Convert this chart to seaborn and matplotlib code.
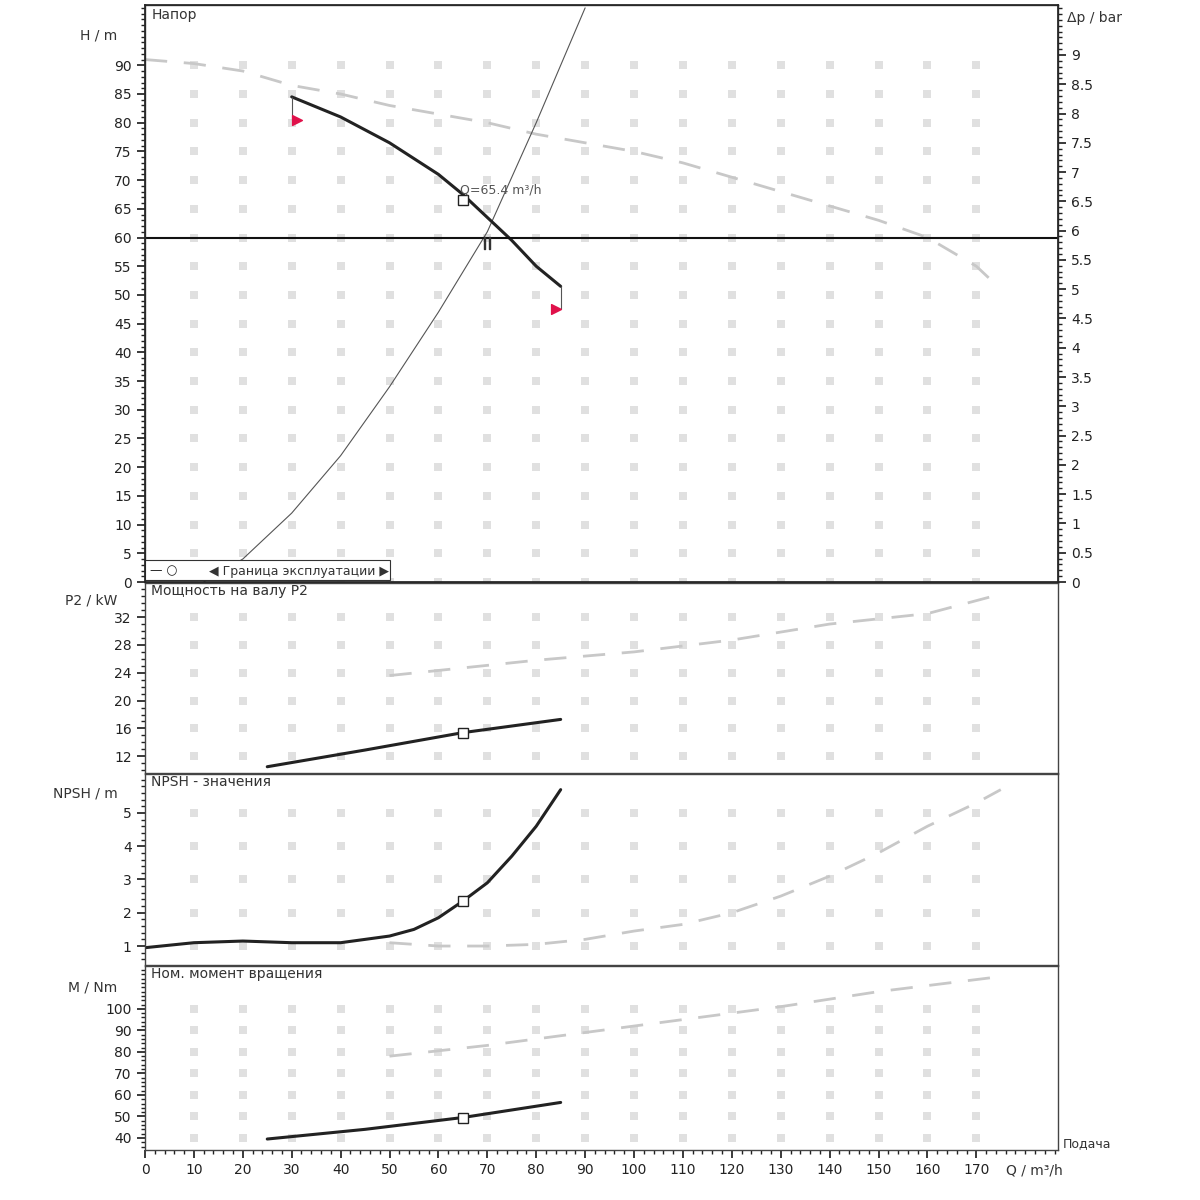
import matplotlib
matplotlib.use("Agg")
import matplotlib.pyplot as plt
import seaborn as sns
import numpy as np
from matplotlib.ticker import MultipleLocator

sns.set_theme(style="white")
plt.rcParams['font.family'] = ['DejaVu Sans']

# Head panel
h_q = [30, 40, 50, 60, 65, 70, 75, 80, 85]
h_h = [84.5, 81, 76.5, 71, 67.5, 63.5, 59.5, 55, 51.5]
hmax_q = [0, 10, 20, 30, 40, 50, 60, 70, 80, 90, 100, 110, 120, 130, 140, 150, 160, 170, 175]
hmax_h = [91, 90.3, 89, 86.5, 85, 83, 81.5, 80, 78, 76.5, 75, 73, 70.5, 68, 65.5, 63, 60, 55, 51]
sys_q = [12, 20, 30, 40, 50, 60, 70, 80, 90]
sys_h = [0, 4, 12, 22, 34, 47, 61, 80, 100]
duty_h = 60
op_q, op_h = 65, 66.5
red_q = [31, 84]
red_h = [80.5, 47.5]
# Power
p_q = [25, 45, 65, 85]
p_v = [10.5, 12.9, 15.4, 17.3]
pmax_q = [50, 80, 100, 120, 140, 160, 175]
pmax_v = [23.6, 25.8, 27, 28.7, 31, 32.5, 35.3]
# NPSH
n_q = [0, 10, 20, 30, 40, 50, 55, 60, 65, 70, 75, 80, 85]
n_v = [0.95, 1.1, 1.15, 1.1, 1.1, 1.3, 1.5, 1.85, 2.35, 2.9, 3.7, 4.6, 5.7]
nmax_q = [50, 60, 70, 80, 90, 100, 110, 120, 130, 140, 150, 160, 170, 175]
nmax_v = [1.1, 1.0, 1.0, 1.05, 1.2, 1.45, 1.65, 2.0, 2.5, 3.1, 3.8, 4.6, 5.3, 5.7]
# Torque
t_q = [25, 45, 65, 85]
t_v = [39.5, 44, 49.5, 56.5]
tmax_q = [50, 70, 90, 110, 130, 150, 175]
tmax_v = [78, 83, 89, 95, 101, 108, 115]

fig = plt.figure(figsize=(12, 12), dpi=100)
L, R = 145/1200, 1058/1200
def mk(top, bot):
    return fig.add_axes([L, 1-bot/1200, R-L, (bot-top)/1200])
ax1 = mk(5, 582); ax2 = mk(583, 773); ax3 = mk(774, 965); ax4 = mk(966, 1150)
xmax = 186.7

def style(ax, ylim, minor, ylabel, title, yticks):
    ax.set_xlim(0, xmax); ax.set_ylim(*ylim)
    ax.set_yticks(yticks)
    ax.yaxis.set_minor_locator(MultipleLocator(minor))
    ax.tick_params(axis='y', which='both', direction='out', left=True, length=6, labelsize=10, colors='#222')
    ax.tick_params(axis='y', which='minor', length=3)
    for s in ax.spines.values():
        s.set_color('#444'); s.set_linewidth(1)
    gx, gy = np.meshgrid(np.arange(10, 180, 10), yticks)
    ax.scatter(gx.ravel(), gy.ravel(), marker='s', s=30, color='#e0e0e0', zorder=0, linewidths=0)
    ax.text(0.007, 0.995, title, transform=ax.transAxes, va='top', fontsize=10, color='#333')
    ax.text(-0.03, (yticks[-1] + (ylim[1]-yticks[-1])*0.5 - ylim[0])/(ylim[1]-ylim[0]), ylabel,
            transform=ax.transAxes, ha='right', va='center', fontsize=10, color='#333')

style(ax1, (0, 100.5), 1, "H / m", "Напор", list(range(0, 95, 5)))
sns.lineplot(x=hmax_q, y=hmax_h, ax=ax1, color='#c8c8c8', lw=2, linestyle=(0, (8, 6)))
sns.lineplot(x=sys_q, y=sys_h, ax=ax1, color='#555', lw=0.8)
sns.lineplot(x=h_q, y=h_h, ax=ax1, color='#222', lw=2.2)
ax1.axhline(duty_h, color='#111', lw=1.5)
ax1.plot([op_q], [op_h], marker='s', mfc='white', mec='#222', ms=7)
ax1.text(op_q-0.5, op_h+1.2, "Q=65.4 m³/h", fontsize=9, color='#555')
ax1.plot([70], [59], marker='$||$', color='#333', ms=9)
ax1.vlines([h_q[0], h_q[-1]], [red_h[0], red_h[1]], [h_h[0], h_h[-1]], color='#555', lw=0.8)
ax1.scatter(red_q, red_h, marker='>', color='#e0114a', s=50, zorder=5)
ax1r = ax1.twinx()
ax1r.set_ylim(0, 100.5/10.2)
ax1r.set_yticks(np.arange(0, 9.5, 0.5))
ax1r.set_yticklabels([f"{v:g}" for v in np.arange(0, 9.5, 0.5)])
ax1r.yaxis.set_minor_locator(MultipleLocator(0.1))
ax1r.tick_params(axis='y', which='both', direction='out', right=True, length=6, labelsize=10, colors='#222')
ax1r.tick_params(axis='y', which='minor', length=3)
ax1r.text(1.01, 0.97, "Δp / bar", transform=ax1r.transAxes, fontsize=10, color='#333')
ax1r.grid(False)
ax1.add_patch(plt.Rectangle((0, 0.3), 50, 3.5, fill=True, fc='white', ec='#333', lw=0.8, zorder=6))
ax1.text(1, 1.9, "— ○", fontsize=9, va='center', zorder=7)
ax1.text(13, 1.9, "◀ Граница эксплуатации ▶", fontsize=9, va='center', zorder=7, color='#333')

style(ax2, (9.6, 36.9), 1, "P2 / kW", "Мощность на валу P2", [12, 16, 20, 24, 28, 32])
sns.lineplot(x=pmax_q, y=pmax_v, ax=ax2, color='#c8c8c8', lw=2, linestyle=(0, (8, 6)))
sns.lineplot(x=p_q, y=p_v, ax=ax2, color='#222', lw=2.2)
ax2.plot([op_q], [15.4], marker='s', mfc='white', mec='#222', ms=7)

style(ax3, (0.43, 6.17), 0.2, "NPSH / m", "NPSH - значения", [1, 2, 3, 4, 5])
sns.lineplot(x=nmax_q, y=nmax_v, ax=ax3, color='#c8c8c8', lw=2, linestyle=(0, (8, 6)))
sns.lineplot(x=n_q, y=n_v, ax=ax3, color='#222', lw=2.2)
ax3.plot([op_q], [2.35], marker='s', mfc='white', mec='#222', ms=7)

style(ax4, (34.4, 119.9), 2, "M / Nm", "Ном. момент вращения", [40, 50, 60, 70, 80, 90, 100])
sns.lineplot(x=tmax_q, y=tmax_v, ax=ax4, color='#c8c8c8', lw=2, linestyle=(0, (8, 6)))
sns.lineplot(x=t_q, y=t_v, ax=ax4, color='#222', lw=2.2)
ax4.plot([op_q], [49.5], marker='s', mfc='white', mec='#222', ms=7)

for ax in (ax1, ax2, ax3):
    ax.set_xticks([])
ax4.set_xticks(range(0, 180, 10))
ax4.set_xticklabels([str(v) for v in range(0, 180, 10)])
ax4.xaxis.set_minor_locator(MultipleLocator(2))
ax4.tick_params(axis='x', which='both', direction='out', bottom=True, length=6, labelsize=10, colors='#222')
ax4.tick_params(axis='x', which='minor', length=3)
ax4.annotate("Q / m³/h", xy=(176, 34.4), xytext=(0, -10), textcoords='offset points',
             fontsize=10, va='top', ha='left', color='#333', annotation_clip=False)
ax4.text(1.005, 0.0, "Подача", transform=ax4.transAxes, fontsize=9, va='bottom', color='#333')
for ax in (ax1, ax2, ax3, ax4):
    ax.set_ylabel(''); ax.set_xlabel('')
    leg = ax.get_legend()
    if leg: leg.remove()

fig.savefig("out.png", dpi=100)
